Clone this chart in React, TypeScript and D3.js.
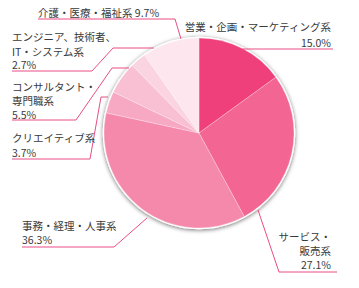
import React from 'react';
import * as d3 from 'd3';

const categories = [
  '営業・企画・マーケティング系',
  'サービス・販売系',
  '事務・経理・人事系',
  'クリエイティブ系',
  'コンサルタント・専門職系',
  'エンジニア、技術者、IT・システム系',
  '介護・医療・福祉系',
];
const values = [15.0, 27.1, 36.3, 3.7, 5.5, 2.7, 9.7];
const valueLabels = ['15.0%', '27.1%', '36.3%', '3.7%', '5.5%', '2.7%', '9.7%'];
const colors = ['#f0407b', '#f36592', '#f589ac', '#f7a9c3', '#f9bfd2', '#fbd4e1', '#fde6ee'];

// label layout (annotation positions)
const labelLines: string[][] = [
  ['営業・企画・マーケティング系', '15.0%'],
  ['サービス・', '販売系', '27.1%'],
  ['事務・経理・人事系', '36.3%'],
  ['クリエイティブ系', '3.7%'],
  ['コンサルタント・', '専門職系', '5.5%'],
  ['エンジニア、技術者、', 'IT・システム系', '2.7%'],
  ['介護・医療・福祉系 9.7%'],
];
const labelPos: { x: number; ys: number[]; anchor: string }[] = [
  { x: 331, ys: [31, 47], anchor: 'end' },
  { x: 331, ys: [241, 255, 269], anchor: 'end' },
  { x: 22, ys: [230, 244], anchor: 'start' },
  { x: 12, ys: [141.5, 156.5], anchor: 'start' },
  { x: 12, ys: [91, 104.5, 118.5], anchor: 'start' },
  { x: 12, ys: [41, 56, 69], anchor: 'start' },
  { x: 38, ys: [17], anchor: 'start' },
];
const leaders: [number, number][][] = [
  [[243, 49], [333, 49]],
  [[258, 210], [279, 272], [337, 272]],
  [[22, 247], [114, 247], [147, 218]],
  [[12, 159], [90, 159], [101, 97], [108, 97]],
  [[12, 120], [76, 120], [112, 68], [129, 68]],
  [[12, 71], [92, 71], [113, 48], [154, 48]],
  [[38, 19], [175, 19], [181, 39]],
];

const W = 359;
const H = 288;
const cx = 199;
const cy = 133;
const R = 95;

export default function App() {
  const pie = d3.pie<number>().sort(null).value((d) => d)(values);
  const arc = d3.arc<d3.PieArcDatum<number>>().innerRadius(0).outerRadius(R);
  const line = d3.line();
  const font = '"Noto Sans CJK JP", "Noto Sans", sans-serif';
  void categories;
  void valueLabels;
  return (
    <svg
      width={W}
      height={H}
      style={{ position: 'absolute', left: 0, top: 0, background: '#fff' }}
      viewBox={`0 0 ${W} ${H}`}
    >
      <defs>
        <filter id="sh" x="-20%" y="-20%" width="140%" height="140%">
          <feDropShadow dx="0" dy="1" stdDeviation="2.2" floodColor="#000" floodOpacity="0.55" />
        </filter>
      </defs>
      <rect width={W} height={H} fill="#fff" />
      <circle cx={cx} cy={cy} r={R + 0.5} fill="#fff" stroke="#fff" strokeWidth={1.5} filter="url(#sh)" />
      <g transform={`translate(${cx},${cy})`}>
        {pie.map((p, i) => (
          <path key={i} d={arc(p) || ''} fill={colors[i]} stroke="#fff" strokeOpacity={0.5} strokeWidth={0.5} />
        ))}
      </g>
      {leaders.map((pts, i) => (
        <path key={i} d={line(pts) || ''} fill="none" stroke="#ea4d84" strokeWidth={1} />
      ))}
      {labelLines.map((ls, i) => (
        <text
          key={i}
          x={labelPos[i].x}
          fontFamily={font}
          fontSize={10.5}
          fill="#3a3a3a"
          textAnchor={labelPos[i].anchor as any}
        >
          {ls.map((t, j) => (
            <tspan key={j} x={labelPos[i].x} y={labelPos[i].ys[j]}>
              {t}
            </tspan>
          ))}
        </text>
      ))}
    </svg>
  );
}
